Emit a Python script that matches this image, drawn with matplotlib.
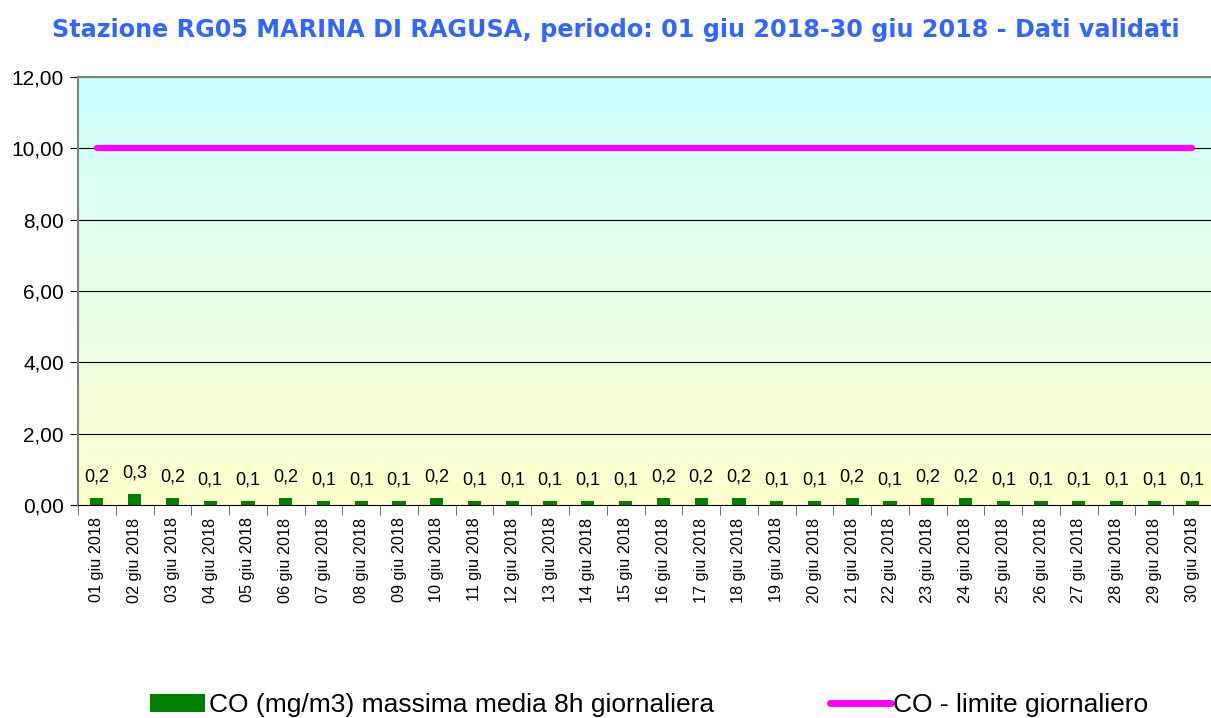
import matplotlib
matplotlib.use("Agg")
import matplotlib.pyplot as plt
import numpy as np
from matplotlib.patches import Patch
from matplotlib.lines import Line2D

days = [f"{d:02d} giu 2018" for d in range(1, 31)]
co_values = [0.2, 0.3, 0.2, 0.1, 0.1, 0.2, 0.1, 0.1, 0.1, 0.2,
             0.1, 0.1, 0.1, 0.1, 0.1, 0.2, 0.2, 0.2, 0.1, 0.1,
             0.2, 0.1, 0.2, 0.2, 0.1, 0.1, 0.1, 0.1, 0.1, 0.1]
limit_values = [10.0] * 30
yticks = [0, 2, 4, 6, 8, 10, 12]
ytick_labels = ["0,00", "2,00", "4,00", "6,00", "8,00", "10,00", "12,00"]

W, H = 1211, 718
fig = plt.figure(figsize=(W / 100, H / 100), dpi=100)
ax = fig.add_axes([78 / W, 1 - 505 / H, (W - 78) / W, (505 - 77) / H])

# gradient background
top = np.array([0xCC, 0xFF, 0xFF]) / 255
bot = np.array([0xFF, 0xFF, 0xCC]) / 255
t = np.linspace(0, 1, 256)[:, None]
grad = (top * (1 - t) + bot * t)[:, None, :].repeat(2, axis=1)
ax.imshow(grad, extent=[0, 1, 0, 1], transform=ax.transAxes, aspect="auto", zorder=0)

x = np.arange(len(days))
ax.set_xlim(-0.5, len(days) - 0.5)
ax.set_ylim(0, 12)
for yv in yticks[1:]:
    ax.axhline(yv, color="black", lw=0.8, zorder=1)

bars = ax.bar(x, co_values, width=0.35, color="#008000", zorder=2)
for xi, v in zip(x, co_values):
    ax.text(xi, v + 0.35, f"{v:.1f}".replace(".", ","), ha="center", va="bottom",
            fontsize=13, family="Liberation Sans", zorder=3)

ax.plot(x, limit_values, color="#FF00FF", lw=4.5, solid_capstyle="round", zorder=3)

ax.set_yticks(yticks)
ax.set_yticklabels(ytick_labels, fontsize=15, family="Liberation Sans")
ax.set_xticks(x)
ax.set_xticklabels(days, rotation=90, fontsize=11.7, family="Liberation Sans")
ax.set_xticks(np.arange(len(days) + 1) - 0.5, minor=True)
ax.tick_params(axis="x", which="major", length=0, pad=9)
ax.tick_params(axis="x", which="minor", length=7, direction="out", color="#555555")
ax.tick_params(axis="y", length=6, direction="out", pad=4)

for s in ["left", "top"]:
    ax.spines[s].set_color("#808080")
    ax.spines[s].set_linewidth(1.5)
ax.spines["bottom"].set_color("black")
ax.spines["right"].set_visible(False)

fig.text(616 / W, 1 - 30 / H, "Stazione RG05 MARINA DI RAGUSA, periodo: 01 giu 2018-30 giu 2018 - Dati validati",
         ha="center", va="center", fontsize=17.2, fontweight="bold", color="#3366FF",
         family="DejaVu Sans")

h1 = Patch(facecolor="#008000", edgecolor="none")
h2 = Line2D([0], [0], color="#FF00FF", lw=5, solid_capstyle="round")
fig.legend([h1], ["CO (mg/m3) massima media 8h giornaliera"], loc="center left",
           bbox_to_anchor=(150 / W, 1 - 705 / H), frameon=False,
           prop={"family": "Liberation Sans", "size": 19}, handlelength=2.1, handletextpad=0.15,
           borderaxespad=0, borderpad=0)
fig.legend([h2], ["CO - limite giornaliero"], loc="center left",
           bbox_to_anchor=(830 / W, 1 - 705 / H), frameon=False,
           prop={"family": "Liberation Sans", "size": 19}, handlelength=2.3, handletextpad=0.1,
           borderaxespad=0, borderpad=0)

fig.savefig("out.png", dpi=100)
